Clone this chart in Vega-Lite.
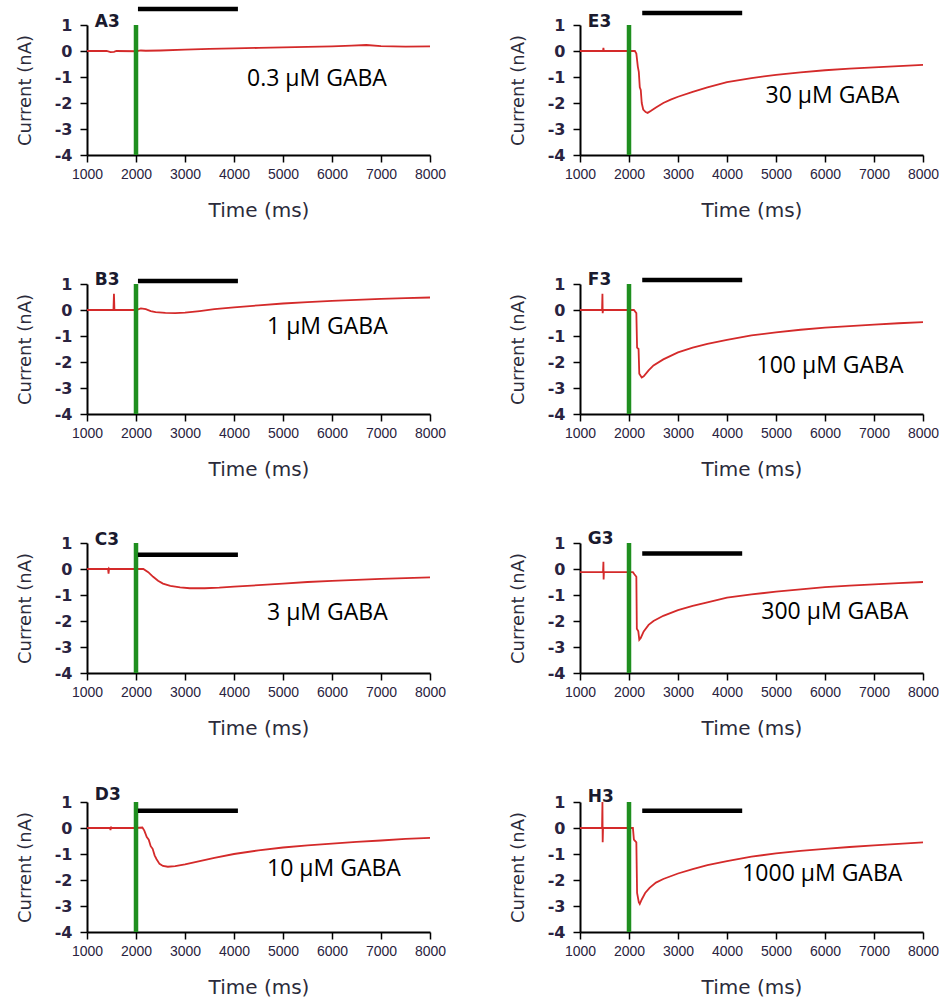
{
  "$schema": "https://vega.github.io/schema/vega-lite/v6.json",
  "background": "white",
  "padding": {"left": 16, "top": 5, "right": 0, "bottom": 0},
  "config": {"view": {"stroke": null}, "header": {"labels": false, "title": null, "labelExpr": "''", "labelFontSize": 1, "labelPadding": 0, "titlePadding": 0}},
  "data": {"values": [
    {"p":"A3","t":"trace","x":1000,"y":0},{"p":"A3","t":"trace","x":1400,"y":0},{"p":"A3","t":"trace","x":1480,"y":-0.04},{"p":"A3","t":"trace","x":1550,"y":-0.03},{"p":"A3","t":"trace","x":1600,"y":0},{"p":"A3","t":"trace","x":2000,"y":-0.01},{"p":"A3","t":"trace","x":2100,"y":0.02},{"p":"A3","t":"trace","x":2200,"y":0.01},{"p":"A3","t":"trace","x":2500,"y":0.02},{"p":"A3","t":"trace","x":3000,"y":0.05},{"p":"A3","t":"trace","x":3500,"y":0.08},{"p":"A3","t":"trace","x":4000,"y":0.1},{"p":"A3","t":"trace","x":4500,"y":0.12},{"p":"A3","t":"trace","x":5000,"y":0.14},{"p":"A3","t":"trace","x":5500,"y":0.16},{"p":"A3","t":"trace","x":6000,"y":0.18},{"p":"A3","t":"trace","x":6400,"y":0.21},{"p":"A3","t":"trace","x":6700,"y":0.23},{"p":"A3","t":"trace","x":7000,"y":0.19},{"p":"A3","t":"trace","x":7500,"y":0.17},{"p":"A3","t":"trace","x":8000,"y":0.18},
    {"p":"B3","t":"trace","x":1000,"y":0},{"p":"B3","t":"trace","x":1540,"y":0},{"p":"B3","t":"trace","x":1550,"y":0.62},{"p":"B3","t":"trace","x":1560,"y":0},{"p":"B3","t":"trace","x":2000,"y":0},{"p":"B3","t":"trace","x":2100,"y":0.06},{"p":"B3","t":"trace","x":2200,"y":0.03},{"p":"B3","t":"trace","x":2300,"y":-0.04},{"p":"B3","t":"trace","x":2400,"y":-0.08},{"p":"B3","t":"trace","x":2600,"y":-0.11},{"p":"B3","t":"trace","x":2800,"y":-0.12},{"p":"B3","t":"trace","x":3000,"y":-0.1},{"p":"B3","t":"trace","x":3300,"y":-0.04},{"p":"B3","t":"trace","x":3600,"y":0.03},{"p":"B3","t":"trace","x":4000,"y":0.1},{"p":"B3","t":"trace","x":4500,"y":0.18},{"p":"B3","t":"trace","x":5000,"y":0.25},{"p":"B3","t":"trace","x":5500,"y":0.3},{"p":"B3","t":"trace","x":6000,"y":0.35},{"p":"B3","t":"trace","x":6500,"y":0.39},{"p":"B3","t":"trace","x":7000,"y":0.43},{"p":"B3","t":"trace","x":7500,"y":0.46},{"p":"B3","t":"trace","x":8000,"y":0.48},
    {"p":"C3","t":"trace","x":1000,"y":0},{"p":"C3","t":"trace","x":1430,"y":0},{"p":"C3","t":"trace","x":1440,"y":-0.18},{"p":"C3","t":"trace","x":1450,"y":0.02},{"p":"C3","t":"trace","x":1460,"y":0},{"p":"C3","t":"trace","x":2000,"y":0},{"p":"C3","t":"trace","x":2150,"y":0},{"p":"C3","t":"trace","x":2250,"y":-0.12},{"p":"C3","t":"trace","x":2350,"y":-0.3},{"p":"C3","t":"trace","x":2450,"y":-0.45},{"p":"C3","t":"trace","x":2550,"y":-0.56},{"p":"C3","t":"trace","x":2700,"y":-0.65},{"p":"C3","t":"trace","x":2900,"y":-0.71},{"p":"C3","t":"trace","x":3100,"y":-0.74},{"p":"C3","t":"trace","x":3400,"y":-0.74},{"p":"C3","t":"trace","x":3700,"y":-0.72},{"p":"C3","t":"trace","x":4000,"y":-0.68},{"p":"C3","t":"trace","x":4500,"y":-0.62},{"p":"C3","t":"trace","x":5000,"y":-0.56},{"p":"C3","t":"trace","x":5500,"y":-0.5},{"p":"C3","t":"trace","x":6000,"y":-0.46},{"p":"C3","t":"trace","x":6500,"y":-0.42},{"p":"C3","t":"trace","x":7000,"y":-0.38},{"p":"C3","t":"trace","x":7500,"y":-0.35},{"p":"C3","t":"trace","x":8000,"y":-0.32},
    {"p":"D3","t":"trace","x":1000,"y":0},{"p":"D3","t":"trace","x":1470,"y":0},{"p":"D3","t":"trace","x":1480,"y":-0.08},{"p":"D3","t":"trace","x":1490,"y":0.05},{"p":"D3","t":"trace","x":1500,"y":0},{"p":"D3","t":"trace","x":2000,"y":0},{"p":"D3","t":"trace","x":2130,"y":0.02},{"p":"D3","t":"trace","x":2170,"y":-0.1},{"p":"D3","t":"trace","x":2220,"y":-0.35},{"p":"D3","t":"trace","x":2260,"y":-0.45},{"p":"D3","t":"trace","x":2300,"y":-0.7},{"p":"D3","t":"trace","x":2340,"y":-0.8},{"p":"D3","t":"trace","x":2380,"y":-1.05},{"p":"D3","t":"trace","x":2420,"y":-1.2},{"p":"D3","t":"trace","x":2480,"y":-1.38},{"p":"D3","t":"trace","x":2550,"y":-1.46},{"p":"D3","t":"trace","x":2650,"y":-1.49},{"p":"D3","t":"trace","x":2800,"y":-1.47},{"p":"D3","t":"trace","x":3000,"y":-1.4},{"p":"D3","t":"trace","x":3300,"y":-1.27},{"p":"D3","t":"trace","x":3600,"y":-1.15},{"p":"D3","t":"trace","x":4000,"y":-1.0},{"p":"D3","t":"trace","x":4500,"y":-0.86},{"p":"D3","t":"trace","x":5000,"y":-0.75},{"p":"D3","t":"trace","x":5500,"y":-0.67},{"p":"D3","t":"trace","x":6000,"y":-0.6},{"p":"D3","t":"trace","x":6500,"y":-0.53},{"p":"D3","t":"trace","x":7000,"y":-0.48},{"p":"D3","t":"trace","x":7500,"y":-0.42},{"p":"D3","t":"trace","x":8000,"y":-0.38},
    {"p":"E3","t":"trace","x":1000,"y":0},{"p":"E3","t":"trace","x":1470,"y":0},{"p":"E3","t":"trace","x":1478,"y":0.12},{"p":"E3","t":"trace","x":1486,"y":0},{"p":"E3","t":"trace","x":2000,"y":0},{"p":"E3","t":"trace","x":2120,"y":0},{"p":"E3","t":"trace","x":2150,"y":-0.1},{"p":"E3","t":"trace","x":2180,"y":-0.6},{"p":"E3","t":"trace","x":2200,"y":-0.8},{"p":"E3","t":"trace","x":2220,"y":-1.4},{"p":"E3","t":"trace","x":2240,"y":-1.5},{"p":"E3","t":"trace","x":2260,"y":-2.0},{"p":"E3","t":"trace","x":2290,"y":-2.25},{"p":"E3","t":"trace","x":2340,"y":-2.35},{"p":"E3","t":"trace","x":2380,"y":-2.38},{"p":"E3","t":"trace","x":2450,"y":-2.3},{"p":"E3","t":"trace","x":2550,"y":-2.17},{"p":"E3","t":"trace","x":2700,"y":-2.0},{"p":"E3","t":"trace","x":2850,"y":-1.87},{"p":"E3","t":"trace","x":3000,"y":-1.76},{"p":"E3","t":"trace","x":3300,"y":-1.57},{"p":"E3","t":"trace","x":3600,"y":-1.4},{"p":"E3","t":"trace","x":4000,"y":-1.2},{"p":"E3","t":"trace","x":4500,"y":-1.04},{"p":"E3","t":"trace","x":5000,"y":-0.92},{"p":"E3","t":"trace","x":5500,"y":-0.82},{"p":"E3","t":"trace","x":6000,"y":-0.74},{"p":"E3","t":"trace","x":6500,"y":-0.68},{"p":"E3","t":"trace","x":7000,"y":-0.63},{"p":"E3","t":"trace","x":7500,"y":-0.58},{"p":"E3","t":"trace","x":8000,"y":-0.53},
    {"p":"F3","t":"trace","x":1000,"y":0},{"p":"F3","t":"trace","x":1450,"y":0},{"p":"F3","t":"trace","x":1458,"y":0.62},{"p":"F3","t":"trace","x":1463,"y":-0.12},{"p":"F3","t":"trace","x":1470,"y":0},{"p":"F3","t":"trace","x":2000,"y":0},{"p":"F3","t":"trace","x":2100,"y":0},{"p":"F3","t":"trace","x":2150,"y":-0.12},{"p":"F3","t":"trace","x":2165,"y":-1.45},{"p":"F3","t":"trace","x":2195,"y":-1.5},{"p":"F3","t":"trace","x":2210,"y":-2.45},{"p":"F3","t":"trace","x":2260,"y":-2.6},{"p":"F3","t":"trace","x":2300,"y":-2.55},{"p":"F3","t":"trace","x":2400,"y":-2.32},{"p":"F3","t":"trace","x":2500,"y":-2.13},{"p":"F3","t":"trace","x":2700,"y":-1.9},{"p":"F3","t":"trace","x":3000,"y":-1.63},{"p":"F3","t":"trace","x":3300,"y":-1.45},{"p":"F3","t":"trace","x":3600,"y":-1.3},{"p":"F3","t":"trace","x":4000,"y":-1.15},{"p":"F3","t":"trace","x":4500,"y":-0.98},{"p":"F3","t":"trace","x":5000,"y":-0.86},{"p":"F3","t":"trace","x":5500,"y":-0.76},{"p":"F3","t":"trace","x":6000,"y":-0.68},{"p":"F3","t":"trace","x":6500,"y":-0.62},{"p":"F3","t":"trace","x":7000,"y":-0.56},{"p":"F3","t":"trace","x":7500,"y":-0.51},{"p":"F3","t":"trace","x":8000,"y":-0.47},
    {"p":"G3","t":"trace","x":1000,"y":-0.12},{"p":"G3","t":"trace","x":1470,"y":-0.12},{"p":"G3","t":"trace","x":1478,"y":0.28},{"p":"G3","t":"trace","x":1482,"y":-0.4},{"p":"G3","t":"trace","x":1488,"y":-0.12},{"p":"G3","t":"trace","x":2000,"y":-0.12},{"p":"G3","t":"trace","x":2080,"y":-0.12},{"p":"G3","t":"trace","x":2110,"y":-0.2},{"p":"G3","t":"trace","x":2150,"y":-0.3},{"p":"G3","t":"trace","x":2160,"y":-2.3},{"p":"G3","t":"trace","x":2190,"y":-2.4},{"p":"G3","t":"trace","x":2210,"y":-2.72},{"p":"G3","t":"trace","x":2240,"y":-2.65},{"p":"G3","t":"trace","x":2300,"y":-2.4},{"p":"G3","t":"trace","x":2400,"y":-2.15},{"p":"G3","t":"trace","x":2500,"y":-2.0},{"p":"G3","t":"trace","x":2700,"y":-1.8},{"p":"G3","t":"trace","x":3000,"y":-1.58},{"p":"G3","t":"trace","x":3300,"y":-1.42},{"p":"G3","t":"trace","x":3600,"y":-1.28},{"p":"G3","t":"trace","x":4000,"y":-1.1},{"p":"G3","t":"trace","x":4500,"y":-0.98},{"p":"G3","t":"trace","x":5000,"y":-0.87},{"p":"G3","t":"trace","x":5500,"y":-0.78},{"p":"G3","t":"trace","x":6000,"y":-0.7},{"p":"G3","t":"trace","x":6500,"y":-0.64},{"p":"G3","t":"trace","x":7000,"y":-0.59},{"p":"G3","t":"trace","x":7500,"y":-0.54},{"p":"G3","t":"trace","x":8000,"y":-0.5},
    {"p":"H3","t":"trace","x":1000,"y":0},{"p":"H3","t":"trace","x":1450,"y":0},{"p":"H3","t":"trace","x":1458,"y":1.0},{"p":"H3","t":"trace","x":1463,"y":-0.55},{"p":"H3","t":"trace","x":1470,"y":0},{"p":"H3","t":"trace","x":2000,"y":0},{"p":"H3","t":"trace","x":2080,"y":0},{"p":"H3","t":"trace","x":2100,"y":-0.45},{"p":"H3","t":"trace","x":2150,"y":-0.55},{"p":"H3","t":"trace","x":2165,"y":-2.5},{"p":"H3","t":"trace","x":2200,"y":-2.85},{"p":"H3","t":"trace","x":2220,"y":-2.92},{"p":"H3","t":"trace","x":2260,"y":-2.75},{"p":"H3","t":"trace","x":2330,"y":-2.5},{"p":"H3","t":"trace","x":2420,"y":-2.3},{"p":"H3","t":"trace","x":2550,"y":-2.1},{"p":"H3","t":"trace","x":2700,"y":-1.96},{"p":"H3","t":"trace","x":3000,"y":-1.75},{"p":"H3","t":"trace","x":3300,"y":-1.58},{"p":"H3","t":"trace","x":3600,"y":-1.43},{"p":"H3","t":"trace","x":4000,"y":-1.27},{"p":"H3","t":"trace","x":4500,"y":-1.1},{"p":"H3","t":"trace","x":5000,"y":-0.98},{"p":"H3","t":"trace","x":5500,"y":-0.88},{"p":"H3","t":"trace","x":6000,"y":-0.8},{"p":"H3","t":"trace","x":6500,"y":-0.73},{"p":"H3","t":"trace","x":7000,"y":-0.67},{"p":"H3","t":"trace","x":7500,"y":-0.61},{"p":"H3","t":"trace","x":8000,"y":-0.55},
    {"p":"A3","t":"stim","x":2000,"y":-4,"y2":1},{"p":"B3","t":"stim","x":2000,"y":-4,"y2":1},{"p":"C3","t":"stim","x":2000,"y":-4,"y2":1},{"p":"D3","t":"stim","x":2000,"y":-4,"y2":1},
    {"p":"E3","t":"stim","x":2000,"y":-4,"y2":1},{"p":"F3","t":"stim","x":2000,"y":-4,"y2":1},{"p":"G3","t":"stim","x":2000,"y":-4,"y2":1},{"p":"H3","t":"stim","x":2000,"y":-4,"y2":1},
    {"p":"A3","t":"bar","x":2040,"x2":4080,"y":1.62},{"p":"B3","t":"bar","x":2040,"x2":4080,"y":1.12},{"p":"C3","t":"bar","x":2040,"x2":4080,"y":0.55},{"p":"D3","t":"bar","x":2040,"x2":4080,"y":0.66},
    {"p":"E3","t":"bar","x":2270,"x2":4310,"y":1.46},{"p":"F3","t":"bar","x":2270,"x2":4310,"y":1.15},{"p":"G3","t":"bar","x":2270,"x2":4310,"y":0.6},{"p":"H3","t":"bar","x":2270,"x2":4310,"y":0.66},
    {"p":"A3","t":"label","x":4265,"y":-1.33,"text":"0.3 µM GABA"},{"p":"B3","t":"label","x":4674,"y":-0.91,"text":"1 µM GABA"},{"p":"C3","t":"label","x":4674,"y":-1.98,"text":"3 µM GABA"},{"p":"D3","t":"label","x":4674,"y":-1.83,"text":"10 µM GABA"},
    {"p":"E3","t":"label","x":4787,"y":-1.99,"text":"30 µM GABA"},{"p":"F3","t":"label","x":4602,"y":-2.43,"text":"100 µM GABA"},{"p":"G3","t":"label","x":4699,"y":-1.94,"text":"300 µM GABA"},{"p":"H3","t":"label","x":4310,"y":-2.03,"text":"1000 µM GABA"},
    {"p":"A3","t":"tag","x":1160,"y":0.94,"text":"A3"},{"p":"B3","t":"tag","x":1160,"y":0.96,"text":"B3"},{"p":"C3","t":"tag","x":1160,"y":0.94,"text":"C3"},{"p":"D3","t":"tag","x":1160,"y":1.06,"text":"D3"},
    {"p":"E3","t":"tag","x":1160,"y":0.94,"text":"E3"},{"p":"F3","t":"tag","x":1160,"y":0.98,"text":"F3"},{"p":"G3","t":"tag","x":1160,"y":0.96,"text":"G3"},{"p":"H3","t":"tag","x":1160,"y":0.99,"text":"H3"}
  ]},
  "facet": {"field": "p", "type": "nominal", "title": null, "sort": ["A3","E3","B3","F3","C3","G3","D3","H3"], "header": null},
  "columns": 2,
  "bounds": "flush",
  "spacing": {"row": 129, "column": 150},
  "resolve": {"axis": {"x": "independent", "y": "independent"}},
  "spec": {
    "width": 343,
    "height": 130,
    "encoding": {
      "x": {"field": "x", "type": "quantitative", "scale": {"domain": [1000, 8000], "nice": false, "zero": false},
        "axis": {"title": "Time (ms)", "values": [1000,2000,3000,4000,5000,6000,7000,8000], "labelExpr": "'' + datum.value", "grid": false,
          "labelFlush": false, "labelOverlap": false, "labelBound": false, "tickSize": 7, "tickWidth": 1.5, "tickColor": "black",
          "domainColor": "black", "domainWidth": 2, "labelFont": "Liberation Sans", "labelFontSize": 14, "labelColor": "#2a2340",
          "labelPadding": 5, "titleFont": "DejaVu Sans", "titleFontSize": 20, "titleFontWeight": "normal", "titleColor": "#2b2b3b", "titlePadding": 19}},
      "y": {"field": "y", "type": "quantitative", "scale": {"domain": [-4, 1], "nice": false, "zero": false},
        "axis": {"title": "Current (nA)", "values": [-4,-3,-2,-1,0,1], "tickCount": 6, "labelExpr": "'' + datum.value", "grid": false,
          "labelFlush": false, "labelOverlap": false, "labelBound": false, "tickSize": 7, "tickWidth": 1.5, "tickColor": "black",
          "domainColor": "black", "domainWidth": 2, "labelFont": "DejaVu Sans", "labelFontWeight": "bold", "labelFontSize": 16, "labelColor": "#2a2340",
          "labelPadding": 8, "titleFont": "DejaVu Sans", "titleFontSize": 18, "titleFontWeight": "normal", "titleColor": "#2b2b3b", "titlePadding": 20}}
    },
    "layer": [
      {
        "transform": [{"filter": "datum.t === 'trace'"}],
        "mark": {"type": "line", "color": "#d42a2a", "strokeWidth": 1.8}
      },
      {
        "transform": [{"filter": "datum.t === 'stim'"}],
        "mark": {"type": "rule", "color": "#1f8f1f", "strokeWidth": 4.5},
        "encoding": {"y2": {"field": "y2"}}
      },
      {
        "transform": [{"filter": "datum.t === 'bar'"}],
        "mark": {"type": "rule", "color": "black", "strokeWidth": 4.5},
        "encoding": {"x2": {"field": "x2"}}
      },
      {
        "transform": [{"filter": "datum.t === 'label'"}],
        "mark": {"type": "text", "align": "left", "baseline": "alphabetic", "font": "Open Sans", "fontSize": 23, "color": "black"},
        "encoding": {"text": {"field": "text"}}
      },
      {
        "transform": [{"filter": "datum.t === 'tag'"}],
        "mark": {"type": "text", "align": "left", "baseline": "alphabetic", "font": "DejaVu Sans", "fontWeight": "bold", "fontSize": 17, "color": "#1a1a2e"},
        "encoding": {"text": {"field": "text"}}
      }
    ]
  }
}
